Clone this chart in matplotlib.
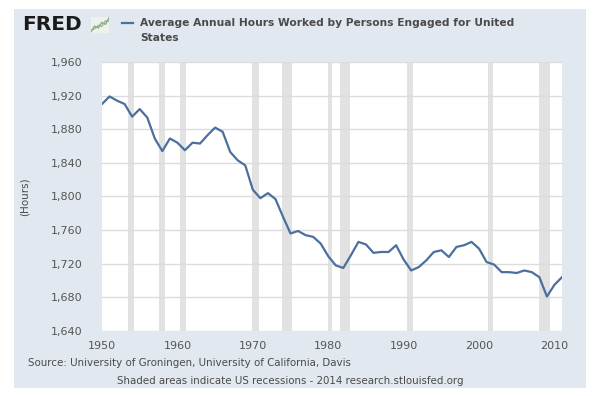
import numpy as np
import matplotlib.pyplot as plt
from matplotlib.patches import Rectangle

# annual average hours worked, United States
years = list(range(1950, 2012))
hours = [1910, 1919, 1914, 1910, 1895, 1904, 1894, 1869, 1854, 1869,
         1864, 1855, 1864, 1863, 1873, 1882, 1877, 1853, 1843, 1837,
         1808, 1798, 1804, 1797, 1776, 1756, 1759, 1754, 1752, 1744,
         1729, 1718, 1715, 1730, 1746, 1743, 1733, 1734, 1734, 1742,
         1725, 1712, 1716, 1724, 1734, 1736, 1728, 1740, 1742, 1746,
         1738, 1722, 1719, 1710, 1710, 1709, 1712, 1710, 1704, 1681,
         1695, 1704]

# NBER recessions (start, end) in fractional years
rec_start = [1953.5, 1957.6, 1960.3, 1969.9, 1973.85, 1980.0, 1981.5, 1990.5, 2001.2, 2007.9]
rec_end = [1954.3, 1958.3, 1961.1, 1970.85, 1975.2, 1980.5, 1982.85, 1991.2, 2001.85, 2009.45]

yticks = list(range(1640, 1961, 40))
xticks = list(range(1950, 2011, 10))

TXT = "#4a4a4a"
BG = "#e1e8ef"

W, H = 600, 396
fig = plt.figure(figsize=(W / 100, H / 100), dpi=100)
fig.patch.set_facecolor("white")
fig.patches.append(Rectangle((14 / W, 1 - 388 / H), (586 - 14) / W, (388 - 9) / H,
                             transform=fig.transFigure, facecolor=BG, edgecolor="none", zorder=-10))

ax = fig.add_axes([102 / W, 1 - 331 / H, (562 - 102) / W, (331 - 62) / H])
ax.set_facecolor("white")
for s, e in zip(rec_start, rec_end):
    ax.axvspan(s, e, color="#e2e2e2", lw=0, zorder=0)
ax.set_yticks(yticks)
ax.grid(axis="y", color="#dcdcdc", lw=1.0, zorder=1)
ax.plot(years, hours, color="#4b6f9f", lw=1.6, zorder=3)
ax.set_xlim(1950, 2011)
ax.set_ylim(1640, 1960)
ax.set_xticks(xticks)
ax.set_yticklabels([f"{v:,}" for v in yticks])
ax.tick_params(axis="both", length=0, labelsize=8, labelcolor="#555555")
ax.tick_params(axis="y", pad=14)
ax.tick_params(axis="x", pad=7)
for sp in ax.spines.values():
    sp.set_visible(False)
ax.set_ylabel("(Hours)", fontsize=7.5, color=TXT, labelpad=15)

# header
fig.text(22 / W, 1 - 25 / H, "FRED", fontsize=14.5, fontweight="heavy", color="#1a1a1a",
         va="center", ha="left", family="DejaVu Sans")
icon = fig.add_axes([91 / W, 1 - 33 / H, 18 / W, 16 / H])
icon.plot([0, 1, 2, 3, 4, 5], [0, 1.2, 0.8, 2.0, 1.6, 3.0], color="#7fb069", lw=1)
icon.plot([0, 1, 2, 3, 4, 5], [0.3, 0.6, 1.4, 1.1, 2.4, 2.2], color="#9aa7b8", lw=0.8)
icon.set_xlim(0, 5)
icon.set_ylim(-0.3, 3.2)
icon.set_facecolor("#eef2e8")
icon.set_xticks([])
icon.set_yticks([])
for sp in icon.spines.values():
    sp.set_visible(False)

fig.lines.append(plt.Line2D([122 / W, 133 / W], [1 - 23 / H] * 2, color="#4b6f9f", lw=1.6,
                            transform=fig.transFigure))
fig.text(140 / W, 1 - 23 / H, "Average Annual Hours Worked by Persons Engaged for United",
         fontsize=7.7, fontweight="bold", color=TXT, va="center", ha="left")
fig.text(140 / W, 1 - 38 / H, "States", fontsize=7.7, fontweight="bold", color=TXT,
         va="center", ha="left")

# footer
fig.text(28 / W, 1 - 363 / H, "Source: University of Groningen, University of California, Davis",
         fontsize=7.4, color=TXT, va="center", ha="left")
fig.text(290 / W, 1 - 381 / H, "Shaded areas indicate US recessions - 2014 research.stlouisfed.org",
         fontsize=7.4, color=TXT, va="center", ha="center")

fig.savefig("out.png", dpi=100)
